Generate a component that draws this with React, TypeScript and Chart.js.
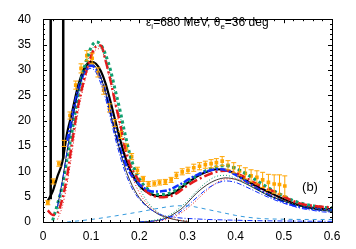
import React, { useEffect, useRef } from "react";
import { Chart, registerables } from "chart.js";
Chart.register(...registerables);

const X_TICKS = [0, 0.1, 0.2, 0.3, 0.4, 0.5, 0.6];
const X_LABELS = ["0", "0.1", "0.2", "0.3", "0.4", "0.5", "0.6"];
const Y_TICKS = [0, 5, 10, 15, 20, 25, 30, 35, 40];
const Y_LABELS = ["0", "5", "10", "15", "20", "25", "30", "35", "40"];

const CURVE_X = [0.01, 0.02, 0.03, 0.04, 0.05, 0.06, 0.07, 0.08, 0.09, 0.1, 0.11, 0.12, 0.13, 0.14, 0.15, 0.16, 0.17, 0.18, 0.19, 0.2, 0.21, 0.22, 0.23, 0.24, 0.25, 0.26, 0.27, 0.28, 0.29, 0.3, 0.32, 0.34, 0.36, 0.38, 0.4, 0.42, 0.44, 0.46, 0.48, 0.5, 0.52, 0.54, 0.56, 0.58, 0.6];

const TOTAL_BLACK = [4.2, 6.0, 9.0, 11.8, 17.5, 21.5, 25.8, 29.0, 31.0, 31.6, 31.2, 29.8, 27.3, 23.8, 20.0, 16.3, 13.0, 10.5, 8.6, 7.2, 6.3, 5.7, 5.3, 5.1, 5.1, 5.3, 5.7, 6.3, 7.0, 7.7, 9.0, 9.9, 10.4, 10.3, 9.4, 8.3, 7.2, 6.3, 5.4, 4.5, 3.7, 3.1, 2.8, 2.6, 2.5];
const TOTAL_RED = [2.3, 1.4, 1.8, 4.5, 9.0, 15.5, 21.5, 26.0, 29.8, 32.8, 34.6, 34.8, 31.8, 28.0, 23.5, 19.5, 14.8, 11.5, 9.6, 8.0, 6.5, 5.6, 5.1, 4.9, 4.9, 5.0, 5.3, 5.8, 6.5, 7.2, 8.3, 9.2, 9.9, 10.1, 9.7, 8.8, 7.7, 6.7, 6.0, 5.0, 4.1, 3.5, 3.2, 3.0, 2.9];
const TOTAL_GREEN = [null, 0.3, 3.5, 7.2, 12.5, 17.7, 23.5, 28.5, 31.8, 34.5, 35.5, 35.0, 33.0, 30.0, 26.0, 22.0, 17.5, 13.5, 10.5, 8.5, 7.2, 6.3, 5.7, 5.4, 5.4, 5.6, 6.0, 6.6, 7.2, 7.9, 9.2, 10.2, 10.9, 11.1, 10.6, 9.6, 8.4, 7.2, 6.1, 5.1, 4.2, 3.6, 3.2, 2.9, 2.8];
const TOTAL_BLUE = [null, null, null, null, 16.0, 20.5, 25.0, 28.3, 30.3, 30.8, 30.2, 28.3, 25.5, 21.8, 18.0, 14.5, 11.8, 9.8, 8.4, 7.4, 6.7, 6.2, 6.0, 6.0, 6.1, 6.3, 6.7, 7.2, 7.7, 8.3, 9.3, 10.0, 10.4, 10.2, 9.3, 8.1, 6.9, 5.8, 4.8, 4.0, 3.3, 2.9, 2.6, 2.4, 2.3];

const QE_BLACK = [null, null, 3, 8, 14, 19.5, 24.5, 28.3, 30.6, 31.2, 30.5, 28.5, 25.5, 21.5, 17.5, 14.0, 10.8, 8.3, 6.3, 4.8, 3.7, 2.8, 2.1, 1.5, 1.1, 0.8, 0.55, 0.35, 0.2, 0.1];
const QE_RED = [null, null, 0.5, 3, 7.5, 13.5, 20, 25, 29, 32.2, 34, 34.2, 31.5, 27.5, 23, 18.5, 14, 10.5, 7.8, 5.8, 4.3, 3.2, 2.4, 1.7, 1.2, 0.85, 0.6, 0.4, 0.25, 0.15];
const QE_GREEN = [null, null, 2, 6, 11.5, 17, 22.5, 27.5, 31, 33.8, 34.8, 34.3, 32.3, 29.2, 25.2, 21, 16.5, 12.5, 9.3, 6.8, 5, 3.6, 2.6, 1.8, 1.3, 0.9, 0.6, 0.4, 0.25, 0.15];
const QE_BLUE = [null, null, 3, 8, 14, 19.5, 24.3, 27.8, 29.8, 30.3, 29.5, 27.3, 24.3, 20.5, 16.5, 13, 10, 7.6, 5.8, 4.5, 3.5, 2.7, 2.1, 1.6, 1.3, 1.1, 0.95, 0.85, 0.75, 0.7, 0.6, 0.5, 0.45, 0.4, 0.35, 0.3, 0.27, 0.24, 0.22, 0.2, 0.18, 0.16, 0.15, 0.14, 0.13];

const N19 = Array(19).fill(null);
const DELTA_BLACK = [...N19, 0, 0.05, 0.1, 0.2, 0.35, 0.6, 0.95, 1.5, 2.1, 2.8, 3.8, 5.8, 7.3, 8.3, 8.7, 8.4, 7.6, 6.6, 5.6, 4.8, 4.1, 3.5, 3.0, 2.6, 2.3, 2.1];
const DELTA_RED = [...N19, null, 0, 0.05, 0.1, 0.2, 0.35, 0.6, 0.9, 1.4, 2.0, 2.7, 4.4, 6.2, 7.7, 8.5, 8.5, 7.9, 7.0, 6.0, 5.1, 4.4, 3.8, 3.3, 2.9, 2.6, 2.4];
const DELTA_GREEN = [...N19, 0.05, 0.1, 0.2, 0.35, 0.55, 0.85, 1.25, 1.8, 2.5, 3.3, 4.2, 6.2, 7.9, 9.0, 9.2, 8.6, 7.7, 6.7, 5.7, 4.9, 4.2, 3.6, 3.1, 2.7, 2.4, 2.2];
const DELTA_BLUE = [...N19, 0, 0.05, 0.1, 0.2, 0.3, 0.5, 0.8, 1.2, 1.7, 2.4, 3.2, 4.9, 6.5, 7.6, 8.1, 7.8, 7.0, 6.1, 5.2, 4.4, 3.7, 3.1, 2.6, 2.3, 2.0, 1.9];

const BG_X = [0.05, 0.1, 0.15, 0.2, 0.24, 0.28, 0.3, 0.32, 0.34, 0.36, 0.38, 0.4, 0.42, 0.45, 0.5, 0.55, 0.6];
const BG_Y = [0, 0.5, 1.2, 2.0, 2.7, 3.2, 3.2, 2.9, 2.5, 2.1, 1.7, 1.3, 1.0, 0.7, 0.55, 0.5, 0.5];

const SPIKE_X = [0.016, 0.042];
const SPIKE_BASE = [4.5, 12.5];
const SPIKE_TOP = 45;

const DATA_X = [0.010, 0.021, 0.033, 0.044, 0.056, 0.068, 0.079, 0.091, 0.102, 0.114, 0.126, 0.138, 0.149, 0.161, 0.173, 0.184, 0.196, 0.208, 0.219, 0.231, 0.242, 0.254, 0.266, 0.277, 0.289, 0.301, 0.313, 0.325, 0.337, 0.349, 0.360, 0.372, 0.384, 0.396, 0.408, 0.420, 0.432, 0.444, 0.456, 0.468, 0.480, 0.491, 0.502];
const DATA_Y = [3.8, 8.0, 11.5, 15.5, 21.0, 27.0, 30.3, 32.8, 32.3, 29.5, 26.0, 22.5, 19.5, 17.2, 14.8, 12.9, 10.2, 8.5, 7.5, 7.6, 7.8, 7.9, 8.3, 9.2, 9.9, 10.2, 10.7, 11.0, 11.3, 11.5, 11.7, 12.0, 11.2, 10.7, 10.1, 9.6, 9.1, 8.8, 8.3, 7.8, 7.5, 7.4, 7.1];
const DATA_ERR = [0.4, 0.5, 0.5, 0.6, 0.7, 0.8, 0.9, 1.0, 1.0, 0.9, 0.8, 0.8, 0.7, 0.7, 0.6, 0.6, 0.6, 0.5, 0.5, 0.5, 0.5, 0.5, 0.5, 0.6, 0.6, 0.6, 0.7, 0.7, 0.7, 0.8, 0.8, 0.9, 0.9, 1.0, 1.0, 1.1, 1.2, 1.3, 1.5, 1.6, 1.8, 1.9, 2.0];

const BLACK = "#000000";
const RED = "#e41a1c";
const GREEN = "#10a070";
const BLUE = "#1030ff";
const LIGHTBLUE = "#3399dd";
const ORANGE = "#ffa500";
const FONT = "'Liberation Sans', Arial, sans-serif";

const pts = (xs: number[], ys: (number | null)[]) =>
  ys.map((y, i) => ({ x: xs[i], y }));

const line = (data: any, color: string, width: number, dash: number[] = []) => ({
  type: "line",
  data,
  borderColor: color,
  backgroundColor: color,
  borderWidth: width,
  borderDash: dash,
  pointRadius: 0,
  fill: false,
  cubicInterpolationMode: "monotone",
  spanGaps: false,
});

const framePlugin = {
  id: "frame",
  afterDatasetsDraw(chart: any) {
    const { ctx, chartArea: a, scales } = chart;
    const xs = scales.x, ys = scales.y;
    ctx.save();
    // error bars
    ctx.strokeStyle = ORANGE;
    ctx.lineWidth = 1;
    DATA_X.forEach((x, i) => {
      const px = xs.getPixelForValue(x);
      const y1 = ys.getPixelForValue(DATA_Y[i] - DATA_ERR[i]);
      const y2 = ys.getPixelForValue(DATA_Y[i] + DATA_ERR[i]);
      ctx.beginPath();
      ctx.moveTo(px, y1); ctx.lineTo(px, y2);
      ctx.moveTo(px - 2.5, y1); ctx.lineTo(px + 2.5, y1);
      ctx.moveTo(px - 2.5, y2); ctx.lineTo(px + 2.5, y2);
      ctx.stroke();
    });
    // frame
    ctx.strokeStyle = "#000";
    ctx.lineWidth = 1;
    ctx.strokeRect(Math.round(a.left) + 0.5, Math.round(a.top) + 0.5, Math.round(a.right - a.left), Math.round(a.bottom - a.top));
    // inward ticks
    ctx.beginPath();
    for (let k = 0; k <= 30; k++) {
      const v = k * 0.02;
      const px = Math.round(xs.getPixelForValue(v)) + 0.5;
      const len = k % 5 === 0 ? 4 : 2;
      ctx.moveTo(px, a.bottom); ctx.lineTo(px, a.bottom - len);
      ctx.moveTo(px, a.top); ctx.lineTo(px, a.top + len);
    }
    for (let k = 0; k <= 40; k++) {
      const py = Math.round(ys.getPixelForValue(k)) + 0.5;
      const len = k % 5 === 0 ? 4 : 2;
      ctx.moveTo(a.left, py); ctx.lineTo(a.left + len, py);
      ctx.moveTo(a.right, py); ctx.lineTo(a.right - len, py);
    }
    ctx.stroke();
    // annotation
    ctx.fillStyle = "#000";
    ctx.textBaseline = "alphabetic";
    ctx.textAlign = "left";
    const big = `12px ${FONT}`;
    const small = `8px ${FONT}`;
    let x = 146;
    const base = 26;
    const parts: [string, boolean][] = [["ε", false], ["i", true], ["=680 MeV, θ", false], ["e", true], ["=36 deg", false]];
    parts.forEach(([t, sub]) => {
      ctx.font = sub ? small : big;
      ctx.fillText(t, x, sub ? base + 3 : base);
      x += ctx.measureText(t).width;
    });
    ctx.font = `13px ${FONT}`;
    ctx.textAlign = "center";
    ctx.textBaseline = "middle";
    ctx.fillText("(b)", 310, 187);
    ctx.restore();
  },
};

export default function App() {
  const ref = useRef<HTMLCanvasElement>(null);
  useEffect(() => {
    const canvas = ref.current!;
    const datasets: any[] = [
      line(pts(BG_X, BG_Y), LIGHTBLUE, 1, [4, 4]),
      line(pts(CURVE_X, QE_BLUE), BLUE, 1, [5, 2, 1, 2]),
      line(pts(CURVE_X, QE_RED), RED, 1, [1, 2]),
      line(pts(CURVE_X, QE_GREEN), GREEN, 1, [1, 2]),
      line(pts(CURVE_X, QE_BLACK), BLACK, 0.8),
      line(pts(CURVE_X, DELTA_BLUE), BLUE, 1, [5, 2, 1, 2]),
      line(pts(CURVE_X, DELTA_RED), RED, 1, [1, 2]),
      line(pts(CURVE_X, DELTA_GREEN), GREEN, 1, [1, 2]),
      line(pts(CURVE_X, DELTA_BLACK), BLACK, 0.8),
      line(pts(CURVE_X, TOTAL_BLUE), BLUE, 2.5, [7, 2, 2, 2]),
      line(pts(CURVE_X, TOTAL_RED), RED, 2.5, [9, 3, 2, 3]),
      line(pts(CURVE_X, TOTAL_GREEN), GREEN, 3, [3, 3]),
      line(pts(CURVE_X, TOTAL_BLACK), BLACK, 2.2),
      ...SPIKE_X.map((sx, i) => ({
        ...line([{ x: sx, y: SPIKE_BASE[i] }, { x: sx, y: SPIKE_TOP }], BLACK, 2.5),
        cubicInterpolationMode: "default",
        tension: 0,
      })),
      {
        type: "line",
        data: pts(DATA_X, DATA_Y),
        showLine: false,
        pointStyle: "rect",
        pointRadius: 2.6,
        pointBackgroundColor: ORANGE,
        pointBorderColor: ORANGE,
        pointBorderWidth: 0,
        borderColor: ORANGE,
        backgroundColor: ORANGE,
      },
    ];
    const chart = new Chart(canvas, {
      type: "line",
      data: { datasets },
      options: {
        animation: false,
        responsive: false,
        maintainAspectRatio: false,
        layout: { padding: { left: 0, right: 24, top: 13, bottom: 0 } },
        plugins: { legend: { display: false }, tooltip: { enabled: false } },
        scales: {
          x: {
            type: "linear",
            min: 0,
            max: 0.6,
            afterBuildTicks: (s: any) => { s.ticks = X_TICKS.map((v) => ({ value: v })); },
            afterFit: (s: any) => { s.height = 27; },
            ticks: {
              autoSkip: false,
              maxRotation: 0,
              padding: 7,
              color: "#000",
              font: { family: FONT, size: 12 },
              callback: (v: any) => X_LABELS[X_TICKS.findIndex((t) => Math.abs(t - v) < 1e-9)] ?? "",
            },
            grid: { display: false, drawTicks: false },
            border: { display: false },
          },
          y: {
            type: "linear",
            min: 0,
            max: 40,
            afterBuildTicks: (s: any) => { s.ticks = Y_TICKS.map((v) => ({ value: v })); },
            afterFit: (s: any) => { s.width = 43; },
            ticks: {
              autoSkip: false,
              padding: 12,
              color: "#000",
              font: { family: FONT, size: 12 },
              callback: (v: any) => Y_LABELS[Y_TICKS.indexOf(v)] ?? "",
            },
            grid: { display: false, drawTicks: false },
            border: { display: false },
          },
        },
      },
      plugins: [framePlugin],
    } as any);
    return () => chart.destroy();
  }, []);
  return (
    <div style={{ position: "absolute", left: 0, top: 0, width: 356, height: 249, background: "#fff" }}>
      <canvas ref={ref} width={356} height={249} style={{ width: 356, height: 249, display: "block" }} />
    </div>
  );
}
